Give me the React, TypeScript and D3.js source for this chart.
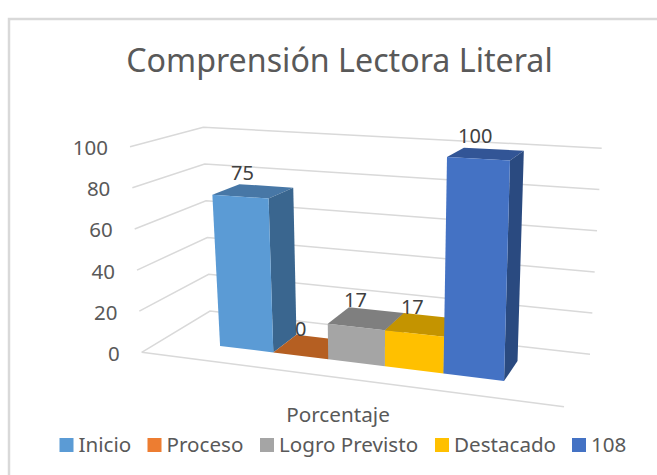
import React from "react";
import * as d3 from "d3";

const seriesNames = ["Inicio", "Proceso", "Logro Previsto", "Destacado", "108"];
const seriesValues = [75, 0, 17, 17, 100];
const frontColors = ["#5b9bd5", "#ed7d31", "#a5a5a5", "#ffc000", "#4472c4"];
const topColors = ["#4777a6", "#b55f22", "#7f7f7f", "#c49400", "#325596"];
const sideColors = ["#3a668f", "#8f4a1a", "#6a6a6a", "#a07800", "#2a4a80"];
const yTicks = [0, 20, 40, 60, 80, 100];
const legendX = [59.5, 147.5, 260, 435, 572];
const title = "Comprensión Lectora Literal";
const axisTitle = "Porcentaje";

type Pt = [number, number];
const W = 657, H = 475;
const FONT = "'Noto Sans', 'Open Sans', sans-serif";

function quad(p00: Pt, p10: Pt, p01: Pt, p11: Pt) {
  const dx1 = p10[0] - p11[0], dx2 = p01[0] - p11[0], sx = p00[0] - p10[0] + p11[0] - p01[0];
  const dy1 = p10[1] - p11[1], dy2 = p01[1] - p11[1], sy = p00[1] - p10[1] + p11[1] - p01[1];
  const den = dx1 * dy2 - dx2 * dy1;
  const g = (sx * dy2 - dx2 * sy) / den;
  const h = (dx1 * sy - sx * dy1) / den;
  const a = p10[0] - p00[0] + g * p10[0], b = p01[0] - p00[0] + h * p01[0], c = p00[0];
  const d = p10[1] - p00[1] + g * p10[1], e = p01[1] - p00[1] + h * p01[1], f = p00[1];
  return (u: number, v: number): Pt => {
    const w = g * u + h * v + 1;
    return [(a * u + b * v + c) / w, (d * u + e * v + f) / w];
  };
}

const floor = quad([141.7, 352.3], [564, 406.7], [210, 311], [590, 354.3]);
const ceil = quad([130, 146.7], [578, 172], [203.3, 127.3], [601.7, 148.3]);
const barCeil = quad([124, 147.5], [572, 172.5], [200, 127.3], [598, 147.5]);
const zScale = d3.scaleLinear().domain([0, 100]).range([0, 1]);
const uScale = d3.scaleBand<string>().domain(seriesNames).range([0.152, 0.848]).padding(0);
const V0 = 0.3, V1 = 0.7;

function lerp(a: Pt, b: Pt, t: number): Pt {
  return [a[0] + (b[0] - a[0]) * t, a[1] + (b[1] - a[1]) * t];
}
const project = (u: number, v: number, val: number): Pt => lerp(floor(u, v), ceil(u, v), zScale(val));
const projectBar = (u: number, v: number, val: number): Pt => lerp(floor(u, v), barCeil(u, v), zScale(val));
const line = d3.line<Pt>();
const poly = (pts: Pt[]) => (line(pts) as string) + "Z";

export default function App() {
  return (
    <svg width={W} height={H} style={{ position: "absolute", left: 0, top: 0, background: "#fff" }}>
      <path d={`M9,${H}V19H${W}`} fill="none" stroke="#d9d9d9" strokeWidth={2.5} />
      <text x={339.5} y={71.5} textAnchor="middle" fontFamily={FONT} fontSize={32.2} fill="#595959">{title}</text>
      {yTicks.map((t) => {
        const a = project(0, 0, t), b = project(0, 1, t), c = project(1, 1, t);
        return (
          <g key={t}>
            <path d={line([a, b, c]) as string} fill="none" stroke="#d9d9d9" strokeWidth={1.5} />
            <text x={a[0] - 22} y={a[1] + 8.5} textAnchor="end" fontFamily={FONT} fontSize={20.5} fill="#595959">{t}</text>
          </g>
        );
      })}
      <path d={line([project(0, 0, 0), project(1, 0, 0)]) as string} fill="none" stroke="#d9d9d9" strokeWidth={1.5} />
      {seriesNames.map((n, i) => {
        const u0 = uScale(n) as number, u1 = u0 + uScale.bandwidth(), val = seriesValues[i];
        const lab = projectBar((u0 + u1) / 2, 0.5, val);
        return (
          <g key={n}>
            <path d={poly([projectBar(u0, V0, val), projectBar(u1, V0, val), projectBar(u1, V1, val), projectBar(u0, V1, val)])} fill={topColors[i]} />
            {val > 0 && <path d={poly([projectBar(u1, V0, 0), projectBar(u1, V0, val), projectBar(u1, V1, val), projectBar(u1, V1, 0)])} fill={sideColors[i]} />}
            {val > 0 && <path d={poly([projectBar(u0, V0, 0), projectBar(u1, V0, 0), projectBar(u1, V0, val), projectBar(u0, V0, val)])} fill={frontColors[i]} />}
            <text x={lab[0] - 11} y={lab[1] - 11} textAnchor="middle" fontFamily={FONT} fontSize={20} fill="#404040">{val}</text>
          </g>
        );
      })}
      <text x={338} y={422} textAnchor="middle" fontFamily={FONT} fontSize={20.7} fill="#595959">{axisTitle}</text>
      {seriesNames.map((n, i) => (
        <g key={n}>
          <rect x={legendX[i]} y={438} width={14} height={14} fill={frontColors[i]} />
          <text x={legendX[i] + 19} y={452} fontFamily={FONT} fontSize={20.6} fill="#595959">{n}</text>
        </g>
      ))}
    </svg>
  );
}
